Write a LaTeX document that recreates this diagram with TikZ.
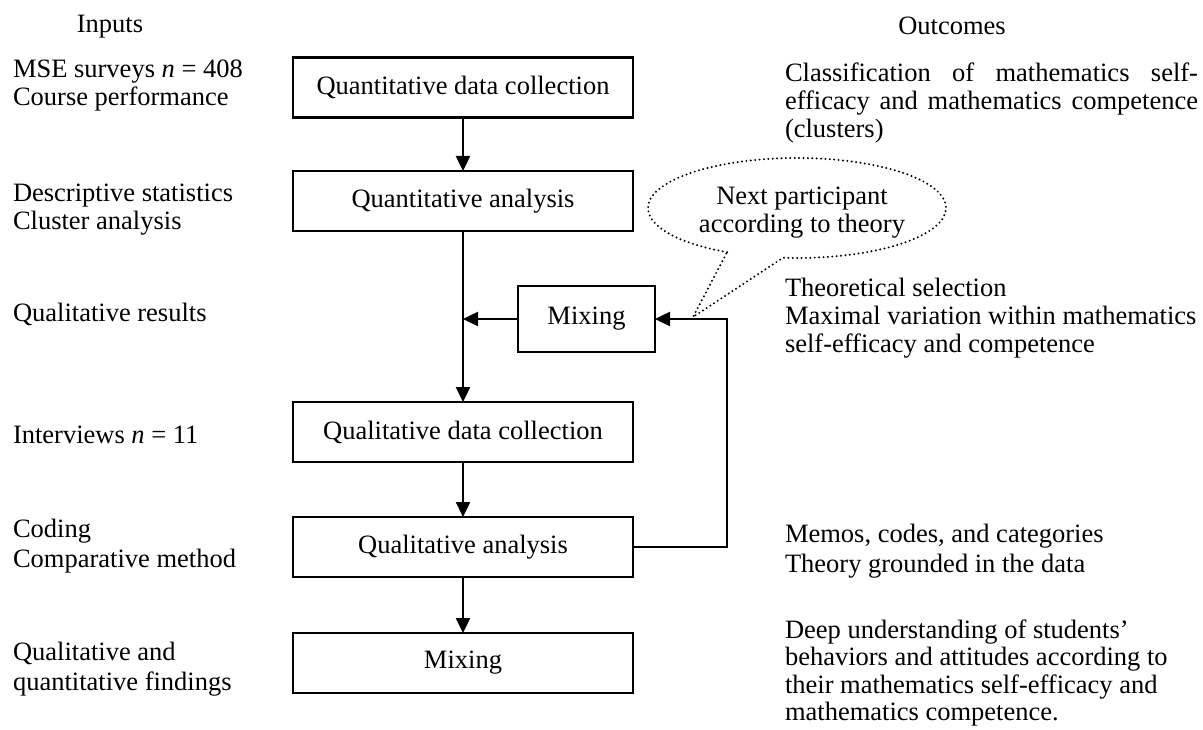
\documentclass[tikz,border=0pt]{standalone}
\usepackage{fontspec}
\setmainfont{Liberation Serif}
\usetikzlibrary{arrows.meta,calc}
\newcommand{\mylines}[2][420pt]{\parbox[t]{#1}{\raggedright #2}}
\begin{document}
\begin{tikzpicture}[x=1pt,y=-1pt,
  every node/.style={inner sep=0pt, outer sep=0pt, font=\fontsize{26.5}{28}\selectfont},
  box/.style={draw, line width=2.4pt, minimum width=340pt, minimum height=60pt, align=center},
  arr/.style={line width=2.4pt, -{Triangle[length=15pt,width=14pt]}},
  callout/.style={line width=2.2pt, line cap=round, dash pattern=on 0pt off 4.4pt},
  wide/.style={font=\fontsize{26.5}{30}\selectfont}]
\useasboundingbox (0,0) rectangle (1203,730);

% boxes
\node[box] (qdc) at (463,87.5) {Quantitative data collection};
\node[box] (qa) at (463,201) {Quantitative analysis};
\node[box, minimum width=137pt, minimum height=66pt] (mix) at (586.5,319) {Mixing};
\node[box] (qldc) at (463,432) {Qualitative data collection};
\node[box] (qlan) at (463,547) {Qualitative analysis};
\node[box] (mix2) at (463,663) {Mixing};

% connectors
\draw[arr] (qdc) -- (qa);
\draw[arr] (qa) -- (qldc);
\draw[arr] (mix) -- (mix.west -| qa.south);
\draw[arr] (qldc) -- (qlan);
\draw[arr] (qlan) -- (mix2);
\coordinate (fb) at (727,547);
\draw[arr] (qlan.east) -- (fb) |- (mix.east);

% callout
\coordinate (cc) at (797,208);
\coordinate (tip) at (693,317);
\draw[callout] ($(cc)+(118:149 and 50)$) arc[start angle=118, end angle=455.4, x radius=149, y radius=50] -- (tip) -- cycle;
\node[anchor=base] (nxt) at (802,205) {\parbox[t]{300pt}{\centering Next participant\\according to theory}};

% headings
\node[anchor=base] (inputs) at (110,33) {Inputs};
\node[anchor=base] (outc) at (952,35) {Outcomes};

% inputs
\node[anchor=base west] (l1) at (13,78) {\mylines[270pt]{MSE surveys \textit{n} = 408\\Course performance}};
\node[anchor=base west] (l2) at (13,202) {\mylines[270pt]{Descriptive statistics\\Cluster analysis}};
\node[anchor=base west] (l3) at (13,322) {Qualitative results};
\node[anchor=base west] (l4) at (13,443) {Interviews \textit{n} = 11};
\node[anchor=base west, wide] (l5) at (13,537) {\mylines[270pt]{Coding\\Comparative method}};
\node[anchor=base west, wide] (l6) at (13,660) {\mylines[270pt]{Qualitative and\\quantitative findings}};

% outcomes
\node[anchor=base west] (r1) at (785,82) {\parbox[t]{413pt}{Classification of mathematics self-\linebreak efficacy and mathematics competence\linebreak (clusters)}};
\node[anchor=base west] (r2) at (785,297) {\mylines{Theoretical selection\\Maximal variation within mathematics\\self-efficacy and competence}};
\node[anchor=base west, wide] (r3) at (785,542) {\mylines{Memos, codes, and categories\\Theory grounded in the data}};
\node[anchor=base west, font=\fontsize{26.5}{27.5}\selectfont] (r4) at (785,638) {\mylines{Deep understanding of students’\\behaviors and attitudes according to\\their mathematics self-efficacy and\\mathematics competence.}};
\end{tikzpicture}
\end{document}
